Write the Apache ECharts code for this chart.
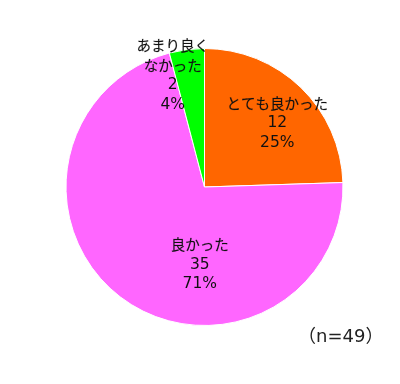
<!DOCTYPE html>
<html><head><meta charset="utf-8">
<script src="https://cdn.jsdelivr.net/npm/echarts@6/dist/echarts.min.js"></script>
<style>html,body{margin:0;padding:0;background:#fff}#c{width:400px;height:384px}</style>
</head><body><div id="c"></div>
<script>
const categories = ['とても良かった', '良かった', 'あまり良く\nなかった'];
const values = [12, 35, 2];
const colors = ['#FF6600', '#FF66FF', '#00FF00'];
const note = '（n=49）';
const labelShift = [[22.5, -12], [38.5, 19.5], [-22.5, -40.5]];

const chart = echarts.init(document.getElementById('c'), null, {renderer: 'canvas'});
chart.setOption({
  animation: false,
  title: {
    text: note, left: 293, top: 323,
    textStyle: {fontFamily: 'DejaVu Sans, Noto Sans CJK JP', fontSize: 18, fontWeight: 'normal', color: '#222'}
  },
  series: [{
    type: 'pie',
    center: [204.5, 187],
    radius: [0, 138.5],
    startAngle: 90,
    clockwise: true,
    percentPrecision: 0,
    data: categories.map((n, i) => ({name: n, value: values[i], itemStyle: {color: colors[i]}})),
    itemStyle: {borderColor: '#fff', borderWidth: 1},
    label: {
      show: true, position: 'inside',
      formatter: '{n|{b}}\n{v|{c}}\n{v|{d}%}',
      color: '#111', align: 'center',
      rich: {
        n: {fontFamily: 'Noto Sans CJK JP', fontSize: 14.5, lineHeight: 20, color: '#111', align: 'center', textBorderColor: 'rgba(17,17,17,0.35)', textBorderWidth: 0.4},
        v: {fontFamily: 'DejaVu Sans', fontSize: 15.5, lineHeight: 19.5, color: '#111', align: 'center'}
      }
    },
    labelLine: {show: false},
    labelLayout: function (p) {
      const s = labelShift[p.dataIndex];
      return {dx: s[0], dy: s[1]};
    }
  }]
});
</script></body></html>
